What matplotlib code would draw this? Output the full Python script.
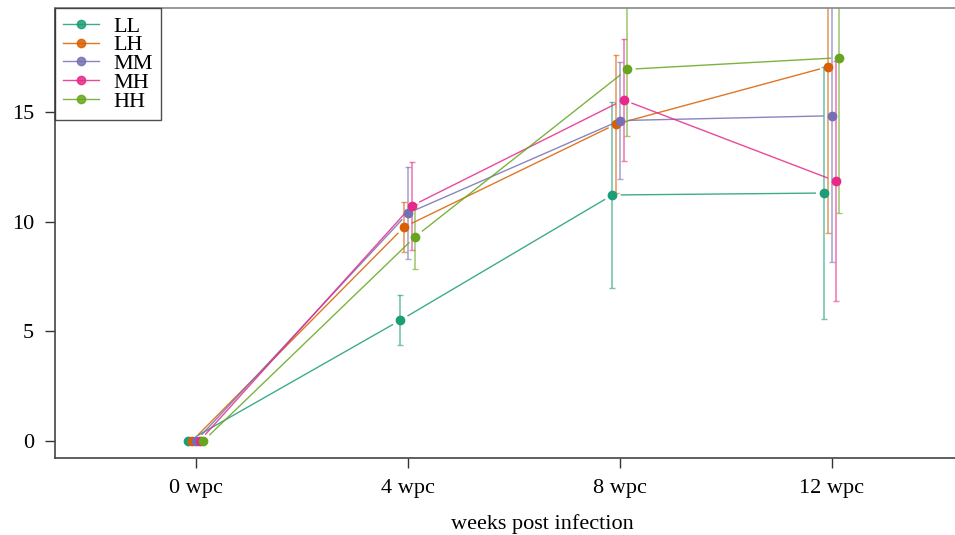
import numpy as np
import matplotlib
matplotlib.use("Agg")
import matplotlib.pyplot as plt

weeks = ["0 wpc", "4 wpc", "8 wpc", "12 wpc"]
groups = ["LL", "LH", "MM", "MH", "HH"]
colors = ["#1B9E77", "#D95F02", "#7570B3", "#E7298A", "#66A61E"]

mean_LL = [0, 5.51, 11.23, 11.32]
mean_LH = [0, 9.77, 14.47, 17.09]
mean_MM = [0, 10.40, 14.63, 14.85]
mean_MH = [0, 10.73, 15.57, 11.87]
mean_HH = [0, 9.33, 16.97, 17.50]

sd_LL = [0, 1.14, 4.25, 5.77]
sd_LH = [0, 1.16, 3.16, 7.60]
sd_MM = [0, 2.09, 2.67, 6.70]
sd_MH = [0, 2.01, 2.78, 5.48]
sd_HH = [0, 1.49, 3.04, 7.10]

means = [mean_LL, mean_LH, mean_MM, mean_MH, mean_HH]
sds = [sd_LL, sd_LH, sd_MM, sd_MH, sd_HH]
offsets = [-0.036, -0.018, 0.0, 0.017, 0.035]

plt.rcParams["font.family"] = ["Liberation Serif", "DejaVu Serif"]

fig = plt.figure(figsize=(9.55, 5.35), dpi=100)
ax = fig.add_axes([0.0576, 0.144, 1.02, 0.841])
ax.set_xlim(-0.665, 3.93)
ax.set_ylim(-0.78, 19.77)

gap = 9  # px gap around points, like R type="b"
x0 = np.arange(len(weeks))
for name, col, m, s, off in zip(groups, colors, means, sds, offsets):
    x = x0 + off
    m = np.array(m)
    ax.errorbar(x, m, yerr=s, fmt="none", ecolor=col, alpha=0.6,
                elinewidth=1.2, capsize=2.5, capthick=1.0)
    pts = ax.transData.transform(np.column_stack([x, m]))
    for p0, p1 in zip(pts[:-1], pts[1:]):
        d = p1 - p0
        u = d / np.hypot(*d)
        seg = ax.transData.inverted().transform([p0 + u * gap, p1 - u * gap])
        ax.plot(seg[:, 0], seg[:, 1], color=col, lw=1.0, alpha=0.85)
    ax.plot(x, m, "o", color=col, ms=6, zorder=5)
    ax.plot([], [], "-o", color=col, ms=6, lw=1.0, alpha=0.85, label=name)

ax.set_xticks(x0)
ax.set_xticklabels(weeks, fontsize=16)
ax.set_yticks([0, 5, 10, 15])
ax.set_yticklabels(["0", "5", "10", "15"], fontsize=16)
ax.tick_params(direction="out", length=7, width=1, color="#333333", pad=8)
ax.set_xlabel("weeks post infection", fontsize=16, labelpad=12)

for sp in ["left", "bottom"]:
    ax.spines[sp].set_color("#444444")
    ax.spines[sp].set_linewidth(1.2)
ax.spines["top"].set_color("#888888")
ax.spines["top"].set_linewidth(1.2)
ax.spines["right"].set_visible(False)

leg = ax.legend(loc="upper left", fontsize=16, frameon=True, fancybox=False,
                borderaxespad=0, handlelength=1.6, labelspacing=-0.08,
                handletextpad=0.65, borderpad=0.36)
leg.get_frame().set_edgecolor("#222222")
leg.get_frame().set_linewidth(1.0)

fig.savefig("out.png", dpi=100)
